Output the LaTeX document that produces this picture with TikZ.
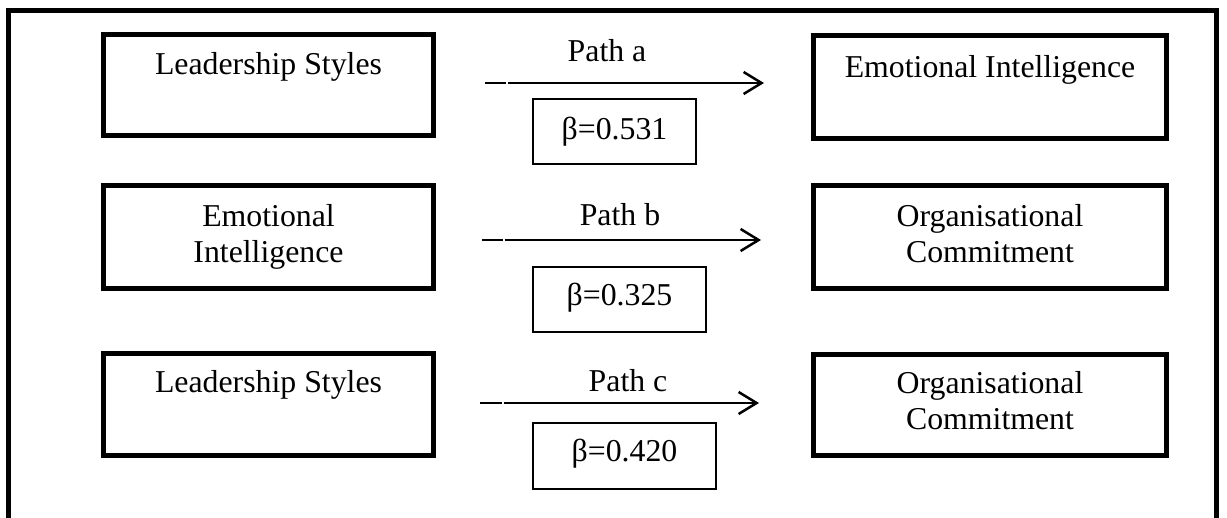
\documentclass[tikz,border=0pt]{standalone}
\usepackage{fontspec}
\setmainfont{Liberation Serif}
\usetikzlibrary{arrows.meta}
\tikzset{
  bigbox/.style={draw, line width=5pt, minimum width=330pt, inner sep=0pt},
  betabox/.style={draw, line width=1.3pt, inner sep=0pt},
  txt/.style={font=\fontsize{31.8}{36}\selectfont, anchor=base, inner sep=0pt},
  conn/.style={line width=2.5pt},
  connarrow/.style={line width=2.5pt, -{Straight Barb[length=18pt,width=22pt]}},
  frame/.style={line width=5pt, line join=miter}
}
\begin{document}
\begin{tikzpicture}[x=1pt,y=-1pt]
\useasboundingbox (0,0) rectangle (1227,518);
% outer frame (open at the bottom)
\coordinate (f1) at (8,518);
\coordinate (f2) at (8,11);
\coordinate (f3) at (1216,11);
\coordinate (f4) at (1216,518);
\draw[frame] (f1) -- (f2) -- (f3) -- (f4);

% row 1
\node[bigbox, minimum width=330pt, minimum height=101pt] (ls1) at (268.5,85) {};
\node[txt] (ls1t) at (268.5,75) {Leadership Styles};
\node[bigbox, minimum width=353pt, minimum height=103pt] (ei1) at (990,87) {};
\node[txt] (ei1t) at (990,78) {Emotional Intelligence};
\node[txt] (pa) at (607,62) {Path a};
\node[betabox, minimum width=163pt, minimum height=65pt] (ba) at (614.5,131.5) {};
\node[txt] (bat) at (614.5,140) {β=0.531};
\coordinate (a1s) at (485,83);
\coordinate (a1g) at (505.5,83);
\coordinate (a1m) at (507.5,83);
\coordinate (a1e) at (764,83);
\draw[conn] (a1s) -- (a1g);
\draw[connarrow] (a1m) -- (a1e);

% row 2
\node[bigbox, minimum width=330pt, minimum height=103pt] (ei2) at (268.5,237) {};
\node[txt] (ei2t1) at (268.5,227) {Emotional};
\node[txt] (ei2t2) at (268.5,263) {Intelligence};
\node[bigbox, minimum width=353pt, minimum height=103pt] (oc2) at (990,237) {};
\node[txt] (oc2t1) at (990,227) {Organisational};
\node[txt] (oc2t2) at (990,263) {Commitment};
\node[txt] (pb) at (620,226) {Path b};
\node[betabox, minimum width=173pt, minimum height=65pt] (bb) at (619.5,299.5) {};
\node[txt] (bbt) at (619.5,306) {β=0.325};
\coordinate (a2s) at (482,240);
\coordinate (a2g) at (502.5,240);
\coordinate (a2m) at (504.5,240);
\coordinate (a2e) at (761,240);
\draw[conn] (a2s) -- (a2g);
\draw[connarrow] (a2m) -- (a2e);

% row 3
\node[bigbox, minimum width=330pt, minimum height=102pt] (ls3) at (268.5,404.5) {};
\node[txt] (ls3t) at (268.5,393) {Leadership Styles};
\node[bigbox, minimum width=353pt, minimum height=101pt] (oc3) at (990,405) {};
\node[txt] (oc3t1) at (990,394) {Organisational};
\node[txt] (oc3t2) at (990,430) {Commitment};
\node[txt] (pc) at (628,392) {Path c};
\node[betabox, minimum width=183pt, minimum height=66pt] (bc) at (624.5,456) {};
\node[txt] (bct) at (624.5,462) {β=0.420};
\coordinate (a3s) at (480,403);
\coordinate (a3g) at (502,403);
\coordinate (a3m) at (504,403);
\coordinate (a3e) at (759,403);
\draw[conn] (a3s) -- (a3g);
\draw[connarrow] (a3m) -- (a3e);
\end{tikzpicture}
\end{document}
